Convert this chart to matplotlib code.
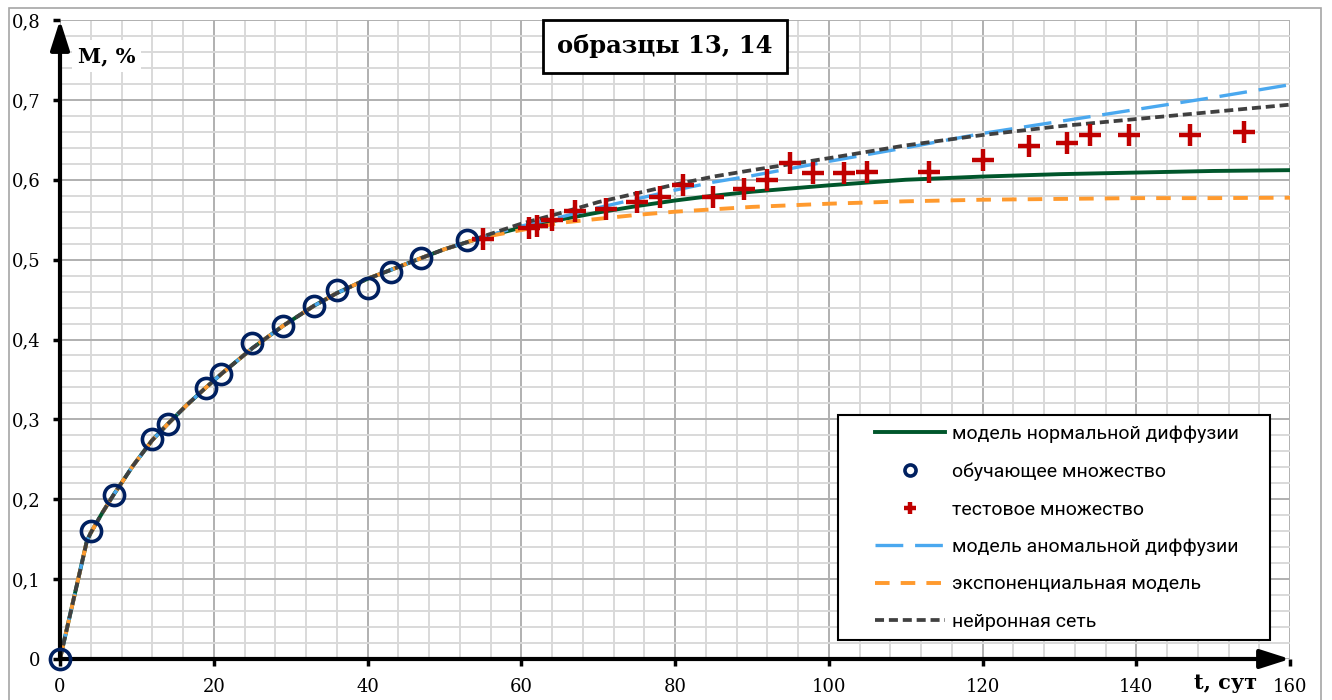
import matplotlib
matplotlib.use('Agg')
import matplotlib.pyplot as plt
from matplotlib.patches import Rectangle
import numpy as np

plt.rcParams['lines.scale_dashes'] = False

# общий участок всех моделей (до ~55 сут кривые совпадают)
t_fit = [0, 3.5, 4, 5.5, 7, 9.5, 12, 14, 16.5, 19, 21, 25, 29, 33, 36, 40, 43, 47, 50, 53]
m_fit = [0, 0.148, 0.158, 0.183, 0.206, 0.242, 0.274, 0.294, 0.318, 0.340, 0.357, 0.389,
         0.417, 0.442, 0.458, 0.476, 0.487, 0.502, 0.513, 0.522]

# прогноз после 55 сут
t_tail = [55, 60, 65, 70, 75, 80, 85, 90, 100, 110, 120, 130, 140, 150, 160]
m_normal = [0.528, 0.540, 0.550, 0.559, 0.567, 0.574, 0.580, 0.585, 0.593, 0.600, 0.604, 0.607, 0.609, 0.611, 0.612]
m_anomal = [0.528, 0.542, 0.553, 0.565, 0.576, 0.587, 0.597, 0.605, 0.623, 0.640, 0.658, 0.673, 0.688, 0.703, 0.719]
m_expon = [0.528, 0.537, 0.546, 0.551, 0.556, 0.560, 0.563, 0.566, 0.570, 0.573, 0.575, 0.576, 0.577, 0.577, 0.5775]
m_neural = [0.529, 0.545, 0.558, 0.572, 0.583, 0.594, 0.604, 0.612, 0.627, 0.643, 0.656, 0.667, 0.676, 0.685, 0.694]

# обучающее множество
t_train = [0, 4, 7, 12, 14, 19, 21, 25, 29, 33, 36, 40, 43, 47, 53]
m_train = [0, 0.160, 0.205, 0.275, 0.294, 0.339, 0.357, 0.395, 0.417, 0.442, 0.462, 0.465, 0.484, 0.502, 0.525]

# тестовое множество
t_test = [55, 61, 62, 64, 67, 71, 75, 78, 81, 85, 89, 92, 95, 98, 102, 105, 113, 120, 126, 131, 134, 139, 147, 154]
m_test = [0.526, 0.540, 0.542, 0.550, 0.561, 0.564, 0.572, 0.579, 0.593, 0.579, 0.589, 0.600, 0.621, 0.608,
          0.608, 0.610, 0.610, 0.625, 0.642, 0.646, 0.656, 0.656, 0.656, 0.660]

x_ticks = [0, 20, 40, 60, 80, 100, 120, 140, 160]
y_ticks = [0, 0.1, 0.2, 0.3, 0.4, 0.5, 0.6, 0.7, 0.8]
y_labels = ['0', '0,1', '0,2', '0,3', '0,4', '0,5', '0,6', '0,7', '0,8']

W, H = 1332, 700
fig = plt.figure(figsize=(W / 100, H / 100), dpi=100)
ax = fig.add_axes([60 / W, 41 / H, 1230 / W, 639 / H])

# рамка вокруг всей диаграммы
fig.patches.append(Rectangle((9 / W, -0.01), 1312 / W, 1.01 - 8 / H, transform=fig.transFigure,
                             fill=False, edgecolor='#a6a6a6', lw=1.2))

t_all = t_fit + t_tail
ax.plot(t_all, m_fit + m_normal, color='#00562b', lw=2.8, zorder=3,
        label='модель нормальной диффузии')
ax.plot(t_all, m_fit + m_anomal, color='#4aa8ef', lw=2.4, dashes=(20, 8.5), zorder=3,
        label='модель аномальной диффузии')
ax.plot(t_all, m_fit + m_expon, color='#ff9a2e', lw=2.8, dashes=(10.5, 8), zorder=3,
        label='экспоненциальная модель')
ax.plot(t_all, m_fit + m_neural, color='#404040', lw=2.7, dashes=(6.5, 3.5), zorder=3,
        label='нейронная сеть')
ax.plot(t_train, m_train, 'o', ms=14.5, mfc='none', mec='#002060', mew=2.6, zorder=6, clip_on=False,
        label='обучающее множество')
ax.plot(t_test, m_test, '+', ms=16.5, mec='#c00000', mew=3.2, zorder=5, label='тестовое множество')

ax.set_xlim(0, 160)
ax.set_ylim(0, 0.8)
ax.set_xticks(x_ticks)
ax.set_xticks(np.arange(0, 161, 4), minor=True)
ax.set_yticks(y_ticks)
ax.set_yticks(np.arange(0, 0.81, 0.02), minor=True)
ax.set_yticklabels(y_labels)
ax.set_axisbelow(True)
ax.grid(which='major', color='#b0b0b0', lw=1.4)
ax.grid(which='minor', color='#d9d9d9', lw=1.4)
for s in ax.spines.values():
    s.set_visible(False)
ax.tick_params(which='major', direction='out', length=5, width=2.5, color='black',
               labelsize=13, pad=9)
ax.tick_params(which='minor', length=0)
for lab in ax.get_xticklabels() + ax.get_yticklabels():
    lab.set_family('DejaVu Serif')

# оси со стрелками
arr = dict(arrowstyle='-|>,head_length=1.0,head_width=0.32', lw=3, color='black',
           shrinkA=0, shrinkB=0, mutation_scale=18)
ax.annotate('', xy=(160, 0), xytext=(0, 0), arrowprops=arr, annotation_clip=False, zorder=4)
ax.annotate('', xy=(0, 0.8), xytext=(0, 0), arrowprops=arr, annotation_clip=False, zorder=4)

ax.text(2.3, 0.755, 'М, %', family='DejaVu Serif', weight='bold', fontsize=15, va='center',
        bbox=dict(facecolor='white', edgecolor='none', pad=4), zorder=4)
ax.text(0.948, -0.038, 't, сут', transform=ax.transAxes, family='DejaVu Serif', weight='bold',
        fontsize=15, ha='center', va='center')
ax.text(78.7, 0.767, 'образцы 13, 14', family='DejaVu Serif', weight='bold', fontsize=17.5,
        ha='center', va='center', zorder=6,
        bbox=dict(boxstyle='square,pad=0.6', facecolor='white', edgecolor='black', lw=2))

# легенда: рамка отдельно, чтобы поля были как в оригинале
ax.add_patch(Rectangle((0.6325, 0.0297), 0.3512, 0.3521, transform=ax.transAxes,
                       facecolor='white', edgecolor='black', lw=1.5, zorder=4))
h, l = ax.get_legend_handles_labels()
order = [0, 4, 5, 1, 2, 3]
leg = ax.legend([h[i] for i in order], [l[i] for i in order], loc='upper left',
                bbox_to_anchor=(0.6626, 0.366), frameon=False, borderpad=0, borderaxespad=0,
                handlelength=3.6, handletextpad=0.35, labelspacing=1.0, markerscale=0.55,
                prop={'family': ['Roboto', 'DejaVu Sans'], 'size': 14})
leg.set_zorder(7)

fig.savefig('out.png', dpi=100)
